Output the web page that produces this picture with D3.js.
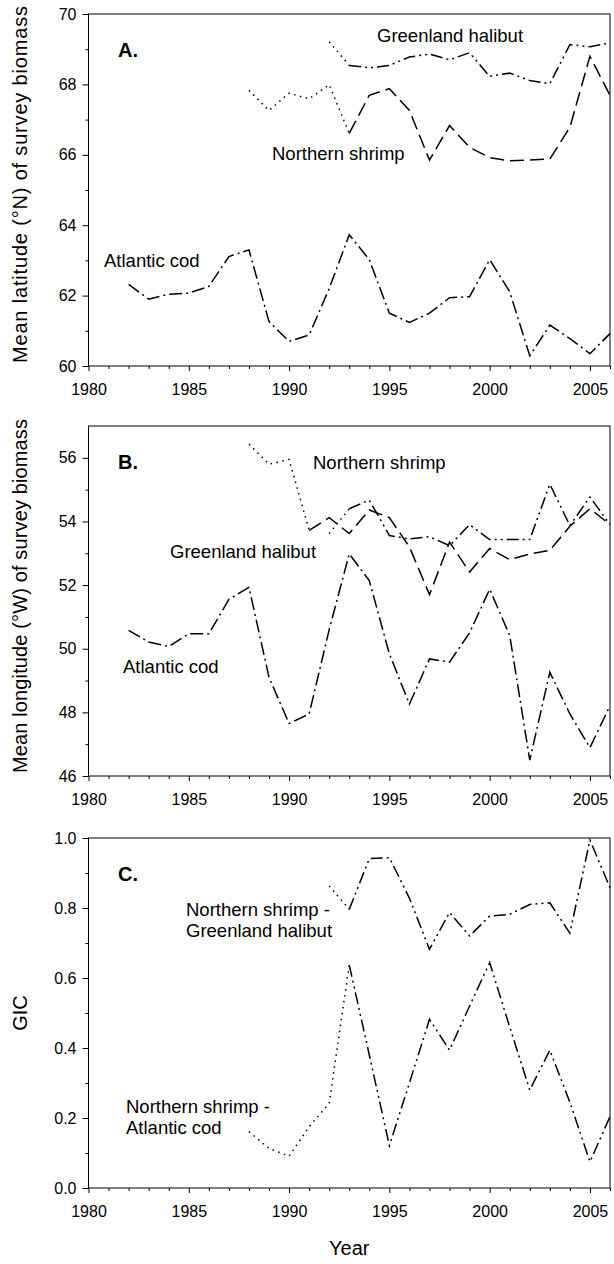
<!DOCTYPE html>
<html>
<head>
<meta charset="utf-8">
<script src="https://cdn.jsdelivr.net/npm/d3@7"></script>
<style>
  body { margin: 0; background: #fff; }
  svg { display: block; }
  text { font-family: "Liberation Sans", Arial, sans-serif; fill: #000; }
</style>
</head>
<body>
<div id="chart"></div>
<script>
// ---- data ----
var codYears = [1982, 1983, 1984, 1985, 1986, 1987, 1988, 1989, 1990, 1991, 1992, 1993, 1994,
                1995, 1996, 1997, 1998, 1999, 2000, 2001, 2002, 2003, 2004, 2005, 2006];
var shrimpYears = [1988, 1989, 1990, 1991, 1992, 1993, 1994, 1995, 1996, 1997,
                   1998, 1999, 2000, 2001, 2002, 2003, 2004, 2005, 2006];
var halibutYears = [1992, 1993, 1994, 1995, 1996, 1997, 1998, 1999, 2000,
                    2001, 2002, 2003, 2004, 2005, 2006];

// A. mean latitude (°N)
var latCod = [62.32, 61.90, 62.04, 62.07, 62.26, 63.11, 63.30, 61.26, 60.70, 60.88, 62.20, 63.73, 63.02,
              61.50, 61.24, 61.50, 61.94, 61.97, 63.02, 62.11, 60.29, 61.16, 60.78, 60.35, 60.92];
var latShrimp = [67.83, 67.26, 67.75, 67.59, 67.99, 66.61, 67.69, 67.88, 67.26, 65.85,
                 66.83, 66.21, 65.92, 65.83, 65.85, 65.88, 66.78, 68.80, 67.69];
var latHalibut = [69.21, 68.54, 68.47, 68.54, 68.78, 68.86, 68.70, 68.90, 68.23,
                  68.32, 68.11, 68.02, 69.13, 69.07, 69.18];

// B. mean longitude (°W)
var lonCod = [50.58, 50.21, 50.07, 50.47, 50.47, 51.55, 51.93, 49.10, 47.65, 47.95, 50.60, 52.98, 52.14,
              49.84, 48.26, 49.68, 49.58, 50.50, 51.87, 50.42, 46.50, 49.26, 47.95, 46.89, 48.21];
var lonShrimp = [56.43, 55.80, 55.95, 53.72, 54.12, 53.62, 54.36, 54.12, 53.20, 51.70,
                 53.35, 52.41, 53.15, 52.80, 52.98, 53.09, 53.85, 54.40, 53.90];
var lonHalibut = [53.62, 54.40, 54.67, 53.56, 53.45, 53.52, 53.24, 53.90, 53.43,
                  53.43, 53.43, 55.17, 53.87, 54.77, 53.90];

// C. GIC
var gicShrimpCod = [0.161, 0.113, 0.091, 0.175, 0.242, 0.637, 0.380, 0.121, 0.300, 0.482,
                    0.394, 0.520, 0.644, 0.460, 0.280, 0.394, 0.245, 0.075, 0.204];
var gicShrimpHalibut = [0.863, 0.796, 0.941, 0.944, 0.828, 0.682, 0.787, 0.720, 0.777,
                        0.782, 0.810, 0.815, 0.728, 0.994, 0.858];

// axis ticks
var xMajor = [1980, 1985, 1990, 1995, 2000, 2005];
var xMinor = [1981, 1982, 1983, 1984, 1986, 1987, 1988, 1989, 1991, 1992, 1993, 1994,
              1996, 1997, 1998, 1999, 2001, 2002, 2003, 2004, 2006];
var latMajor = [60, 62, 64, 66, 68, 70];
var latMinor = [61, 63, 65, 67, 69];
var lonMajor = [46, 48, 50, 52, 54, 56];
var lonMinor = [47, 49, 51, 53, 55];
var gicMajor = [0.0, 0.2, 0.4, 0.6, 0.8, 1.0];
var gicMinor = [0.1, 0.3, 0.5, 0.7, 0.9];

// line styles (dotted = early part of the series)
var dashes = {
    cod: "13,4,2,4",
    shrimp: "14,6",
    halibut: "12,4,2,4,2,4",
    gic: "12,4,2,4,2,4",
    dotted: "1.5,4.5"
};

var width = 614, height = 1264;
var svg = d3.select("#chart").append("svg")
    .attr("width", width)
    .attr("height", height);

var x = d3.scaleLinear().domain([1980, 2006]).range([88.5, 610]);

var panels = [
    {
        letter: "A.", top: 14, bottom: 366, domain: [60, 70],
        major: latMajor, minor: latMinor, fmt: d3.format("d"),
        title: "Mean latitude (°N) of survey biomass", titleLen: 357,
        series: [
            { years: codYears, values: latCod, dash: dashes.cod, dottedTo: null },
            { years: shrimpYears, values: latShrimp, dash: dashes.shrimp, dottedTo: 1993 },
            { years: halibutYears, values: latHalibut, dash: dashes.halibut, dottedTo: 1993 }
        ],
        labels: [
            { text: ["Greenland halibut"], x: 377, y: 42 },
            { text: ["Northern shrimp"], x: 272, y: 160 },
            { text: ["Atlantic cod"], x: 104, y: 267 }
        ]
    },
    {
        letter: "B.", top: 426, bottom: 776, domain: [46, 57],
        major: lonMajor, minor: lonMinor, fmt: d3.format("d"),
        title: "Mean longitude (°W) of survey biomass", titleLen: 354,
        series: [
            { years: codYears, values: lonCod, dash: dashes.cod, dottedTo: null },
            { years: shrimpYears, values: lonShrimp, dash: dashes.shrimp, dottedTo: 1991 },
            { years: halibutYears, values: lonHalibut, dash: dashes.halibut, dottedTo: 1993 }
        ],
        labels: [
            { text: ["Northern shrimp"], x: 313, y: 469 },
            { text: ["Greenland halibut"], x: 170, y: 558 },
            { text: ["Atlantic cod"], x: 123, y: 673 }
        ]
    },
    {
        letter: "C.", top: 838, bottom: 1188, domain: [0, 1],
        major: gicMajor, minor: gicMinor, fmt: d3.format(".1f"),
        title: "GIC", titleLen: null,
        series: [
            { years: shrimpYears, values: gicShrimpCod, dash: dashes.gic, dottedTo: 1993 },
            { years: halibutYears, values: gicShrimpHalibut, dash: dashes.gic, dottedTo: 1993 }
        ],
        labels: [
            { text: ["Northern shrimp -", "Greenland halibut"], x: 186, y: 916 },
            { text: ["Northern shrimp -", "Atlantic cod"], x: 126, y: 1113 }
        ]
    }
];

panels.forEach(function(p) {
    var y = d3.scaleLinear().domain(p.domain).range([p.bottom, p.top]);
    var g = svg.append("g");

    // minor ticks
    g.append("g")
        .attr("transform", "translate(0," + p.bottom + ")")
        .call(d3.axisBottom(x).tickValues(xMinor).tickSize(3).tickFormat(""));
    g.append("g")
        .attr("transform", "translate(" + x.range()[0] + ",0)")
        .call(d3.axisLeft(y).tickValues(p.minor).tickSize(3).tickFormat(""));

    // major ticks + labels
    g.append("g")
        .attr("transform", "translate(0," + p.bottom + ")")
        .call(d3.axisBottom(x).tickValues(xMajor).tickSize(5).tickSizeOuter(0).tickPadding(13).tickFormat(d3.format("d")));
    g.append("g")
        .attr("transform", "translate(" + x.range()[0] + ",0)")
        .call(d3.axisLeft(y).tickValues(p.major).tickSize(6).tickSizeOuter(0).tickPadding(6).tickFormat(p.fmt));

    g.selectAll(".domain").remove();
    g.selectAll(".tick line").attr("stroke", "#000");
    g.selectAll(".tick text").style("font-size", "16px").attr("fill", "#000");

    // frame
    g.append("rect")
        .attr("x", x.range()[0])
        .attr("y", p.top)
        .attr("width", x.range()[1] - x.range()[0])
        .attr("height", p.bottom - p.top)
        .attr("fill", "none")
        .attr("stroke", "#000")
        .attr("stroke-width", 1);

    var line = d3.line()
        .x(function(d) { return x(d[0]); })
        .y(function(d) { return y(d[1]); });

    p.series.forEach(function(s) {
        var pts = s.years.map(function(yr, i) { return [yr, s.values[i]]; });
        if (s.dottedTo != null) {
            g.append("path")
                .datum(pts.filter(function(d) { return d[0] <= s.dottedTo; }))
                .attr("d", line)
                .attr("fill", "none")
                .attr("stroke", "#000")
                .attr("stroke-width", 1.5)
                .attr("stroke-dasharray", dashes.dotted);
            pts = pts.filter(function(d) { return d[0] >= s.dottedTo; });
        }
        g.append("path")
            .datum(pts)
            .attr("d", line)
            .attr("fill", "none")
            .attr("stroke", "#000")
            .attr("stroke-width", 1.5)
            .attr("stroke-dasharray", s.dash);
    });

    // panel letter
    g.append("text")
        .attr("x", 118)
        .attr("y", p.top + 43)
        .style("font-size", "20px")
        .style("font-weight", "bold")
        .text(p.letter);

    // series labels
    p.labels.forEach(function(l) {
        var t = g.append("text")
            .attr("x", l.x)
            .attr("y", l.y)
            .style("font-size", "18.5px");
        l.text.forEach(function(s, i) {
            t.append("tspan").attr("x", l.x).attr("dy", i ? 20.5 : 0).text(s);
        });
    });

    // y axis title
    var cy = (p.top + p.bottom) / 2;
    var yt = g.append("text")
        .attr("transform", "translate(27," + (p.titleLen ? p.bottom - 3 : cy) + ") rotate(-90)")
        .attr("text-anchor", p.titleLen ? "start" : "middle")
        .style("font-size", "20px")
        .text(p.title);
    if (p.titleLen) yt.attr("textLength", p.titleLen).attr("lengthAdjust", "spacing");
});

// x axis title
svg.append("text")
    .attr("x", (x.range()[0] + x.range()[1]) / 2)
    .attr("y", 1255)
    .attr("text-anchor", "middle")
    .style("font-size", "20px")
    .text("Year");
</script>
</body>
</html>
